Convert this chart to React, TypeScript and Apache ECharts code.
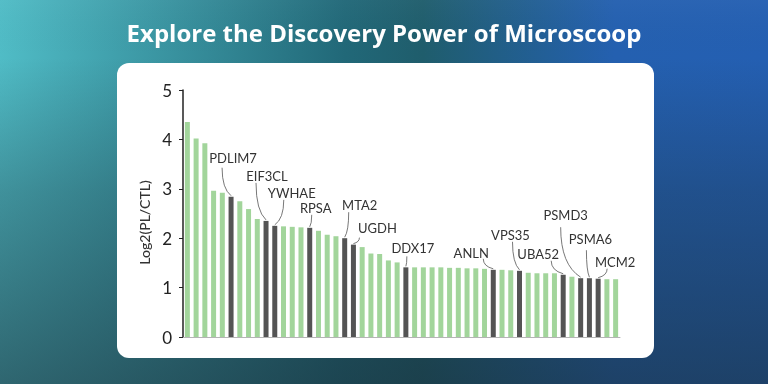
import React, { useEffect, useRef } from "react";
import * as echarts from "echarts";

const titleText = "Explore the Discovery Power of Microscoop";
const yAxisName = "Log2(PL/CTL)";
const yTicks = [0, 1, 2, 3, 4, 5];

const values = [
  4.35, 4.02, 3.92, 2.96, 2.92, 2.84, 2.75, 2.59, 2.39, 2.35,
  2.25, 2.24, 2.23, 2.22, 2.21, 2.15, 2.07, 2.04, 2.0, 1.87,
  1.82, 1.69, 1.68, 1.55, 1.51, 1.41, 1.41, 1.41, 1.41, 1.41,
  1.4, 1.4, 1.39, 1.39, 1.38, 1.36, 1.36, 1.35, 1.34, 1.3,
  1.29, 1.29, 1.29, 1.26, 1.22, 1.19, 1.19, 1.18, 1.17, 1.17,
];
const categories = values.map((_, i) => `P${i + 1}`);

const labeledGenes = ["PDLIM7", "EIF3CL", "YWHAE", "RPSA", "MTA2", "UGDH", "DDX17", "ANLN", "VPS35", "UBA52", "PSMD3", "PSMA6", "MCM2"];
const labeledIndex = [5, 9, 10, 14, 18, 19, 25, 35, 38, 43, 45, 46, 47];

// label layout (pixel offsets of text centre and leader start, relative to bar top)
const labelLayout: Record<string, { tx: number; ty: number; lx: number; ly: number }> = {
  PDLIM7: { tx: 2, ty: -38, lx: -9, ly: -28 },
  EIF3CL: { tx: 1, ty: -44, lx: -10, ly: -37 },
  YWHAE: { tx: 17, ty: -32, lx: 9, ly: -25 },
  RPSA: { tx: 6, ty: -19, lx: 2, ly: -12 },
  MTA2: { tx: 15, ty: -32, lx: 4, ly: -25 },
  UGDH: { tx: 24, ty: -16, lx: 6, ly: -6 },
  DDX17: { tx: 7, ty: -18, lx: 1, ly: -10 },
  ANLN: { tx: -22, ty: -16, lx: -10, ly: -10 },
  VPS35: { tx: -9, ty: -35, lx: -7, ly: -28 },
  UBA52: { tx: -25, ty: -20, lx: -12, ly: -13 },
  PSMD3: { tx: -15, ty: -62, lx: -20, ly: -50 },
  PSMA6: { tx: 1, ty: -38, lx: -3, ly: -27 },
  MCM2: { tx: 17, ty: -16, lx: 9, ly: -9 },
};

const GREEN = "#a2d59b";
const DARK = "#545454";
const FONT = "Lato, 'Noto Sans', sans-serif";

export default function App() {
  const ref = useRef<HTMLDivElement>(null);
  useEffect(() => {
    if (!ref.current) return;
    const chart = echarts.init(ref.current, null, { renderer: "svg" });
    const bgGraphics: any[] = [
      {
        type: "rect",
        z: -20,
        silent: true,
        shape: { x: 0, y: 0, width: 768, height: 384 },
        style: {
          fill: new echarts.graphic.LinearGradient(0, 0, 1, 0, [
            { offset: 0, color: "#50bcc6" },
            { offset: 0.45, color: "#216878" },
            { offset: 0.55, color: "#1f5d6c" },
            { offset: 0.8, color: "#2460b0" },
            { offset: 1, color: "#245fb2" },
          ]),
        },
      },
      {
        type: "rect",
        z: -19,
        silent: true,
        shape: { x: 0, y: 0, width: 768, height: 384 },
        style: {
          fill: new echarts.graphic.LinearGradient(0, 0, 0, 1, [
            { offset: 0, color: "rgba(255,255,255,0.03)" },
            { offset: 0.15, color: "rgba(25,45,55,0)" },
            { offset: 0.5, color: "rgba(25,45,55,0.3)" },
            { offset: 1, color: "rgba(25,45,55,0.6)" },
          ]),
        },
      },
      {
        type: "rect",
        z: -18,
        silent: true,
        shape: { x: 117, y: 63, width: 537, height: 295, r: 12 },
        style: { fill: "#ffffff" },
      },
    ];
    const labeledSet = new Set(labeledIndex);
    chart.setOption({
      animation: false,
      title: {
        text: titleText,
        left: "center",
        top: 15,
        textStyle: { color: "#ffffff", fontSize: 24, fontWeight: 700, fontFamily: "'Open Sans', Lato, sans-serif" },
      },
      grid: { left: 183, right: 148, top: 90, bottom: 47 },
      xAxis: {
        type: "category",
        data: categories,
        axisLine: { show: true, lineStyle: { color: "#b5b5b5", width: 1 } },
        axisTick: { show: false },
        axisLabel: { show: false },
        splitLine: { show: false },
      },
      yAxis: {
        type: "value",
        min: yTicks[0],
        max: yTicks[yTicks.length - 1],
        interval: 1,
        name: yAxisName,
        nameLocation: "middle",
        nameGap: 32,
        nameTextStyle: { color: "#333", fontSize: 14, fontWeight: 500, fontFamily: FONT, padding: [0, 0, 0, -18] },
        axisLine: { show: true, lineStyle: { color: "#222", width: 1.5 } },
        axisTick: { show: true, length: 4, lineStyle: { color: "#222" } },
        axisLabel: { color: "#222", fontSize: 17, fontFamily: FONT, margin: 11 },
        splitLine: { show: false },
      },
      series: [
        {
          type: "bar",
          barWidth: 5,
          data: values.map((v, i) => ({
            value: v,
            itemStyle: { color: labeledSet.has(i) ? DARK : GREEN },
          })),
        },
      ],
      graphic: bgGraphics,
    });

    const labelGraphics: any[] = [];
    labeledGenes.forEach((g, k) => {
      const idx = labeledIndex[k];
      const p = chart.convertToPixel({ xAxisIndex: 0, yAxisIndex: 0 }, [idx, values[idx]]) as number[];
      const L = labelLayout[g];
      const bx = p[0];
      const by = p[1] - 1;
      labelGraphics.push({
        type: "text",
        z: 50,
        silent: true,
        x: bx + L.tx,
        y: by + L.ty,
        style: {
          text: g,
          fill: "#333",
          font: `13px ${FONT}`,
          textAlign: "center",
          textVerticalAlign: "middle",
        },
      });
      const x1 = bx + L.lx;
      const y1 = by + L.ly;
      labelGraphics.push({
        type: "bezierCurve",
        z: 50,
        silent: true,
        shape: { x1, y1, x2: bx, y2: by, cpx1: x1, cpy1: y1 + 0.75 * (by - y1) },
        style: { stroke: "#555", lineWidth: 0.8, fill: "none" },
      });
    });
    chart.setOption({ graphic: [...bgGraphics, ...labelGraphics] });

    return () => chart.dispose();
  }, []);
  return <div ref={ref} style={{ position: "fixed", left: 0, top: 0, width: 768, height: 384 }} />;
}
